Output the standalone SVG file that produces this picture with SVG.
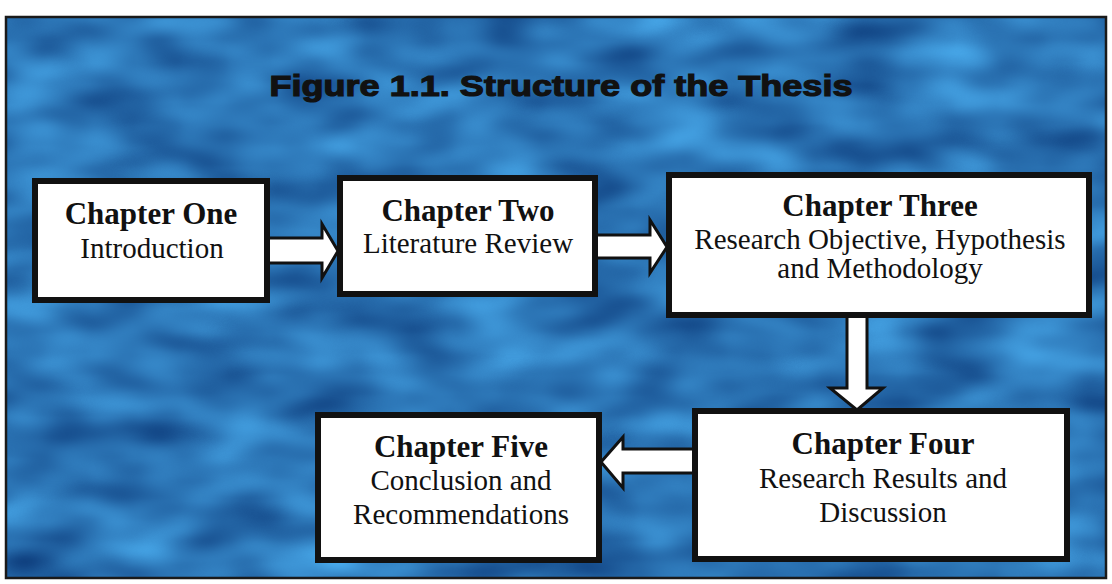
<svg xmlns="http://www.w3.org/2000/svg" width="1112" height="584" viewBox="0 0 1112 584">
  <defs>
    <filter id="tex" x="0" y="0" width="100%" height="100%" color-interpolation-filters="sRGB">
      <feTurbulence type="fractalNoise" baseFrequency="0.011 0.024" numOctaves="2" seed="7" result="n"/>
      <feColorMatrix in="n" type="matrix" values="0.283 0 0 0 0.029  0.52 0 0 0 0.197  0.53 0 0 0 0.445  0 0 0 0 1"/>
    </filter>
    <style>
      .box { fill: #ffffff; stroke: #111111; stroke-width: 6; }
      .arrow { fill: #ffffff; stroke: #111111; stroke-width: 3; stroke-linejoin: miter; }
      .head { font-family: "Liberation Serif", "Times New Roman", serif; font-weight: bold; font-size: 31px; fill: #111111; text-anchor: middle; }
      .body { font-family: "Liberation Serif", "Times New Roman", serif; font-size: 29px; fill: #111111; text-anchor: middle; }
      .title { font-family: "Liberation Sans", Arial, sans-serif; font-weight: bold; font-size: 30px; fill: #111111; stroke: #111111; stroke-width: 1.2; text-anchor: middle; }
    </style>
  </defs>

  <rect x="0" y="0" width="1112" height="584" fill="#ffffff"/>
  <g id="background">
    <rect x="6" y="17" width="1100" height="561" fill="#2f7fc0" filter="url(#tex)"/>
    <rect x="6" y="17" width="1100" height="561" fill="none" stroke="#1a1a1a" stroke-width="2.5"/>
  </g>

  <g id="title">
    <text class="title" x="561" y="96" textLength="583" lengthAdjust="spacingAndGlyphs">Figure 1.1. Structure of the Thesis</text>
  </g>

  <g id="connectors">
    <path class="arrow" d="M268,238 H322 V224 L338,251 L322,278 V263 H268 Z"/>
    <path class="arrow" d="M596,235 H650 V220 L667,247 L650,273 V258 H596 Z"/>
    <path class="arrow" d="M847,316 V388 H830 L857,410 L883,388 H867 V316 Z"/>
    <path class="arrow" d="M694,449 H623 V437 L601,462 L623,488 V473 H694 Z"/>
  </g>

  <g id="chapter-one">
    <rect class="box" x="35" y="181" width="232" height="119"/>
    <text class="head" x="151" y="224">Chapter One</text>
    <text class="body" x="152" y="258">Introduction</text>
  </g>

  <g id="chapter-two">
    <rect class="box" x="340" y="178" width="255" height="116"/>
    <text class="head" x="468" y="221">Chapter Two</text>
    <text class="body" x="468" y="253">Literature Review</text>
  </g>

  <g id="chapter-three">
    <rect class="box" x="669" y="175" width="420" height="140"/>
    <text class="head" x="880" y="216">Chapter Three</text>
    <text class="body" x="880" y="249">Research Objective, Hypothesis</text>
    <text class="body" x="880" y="278">and Methodology</text>
  </g>

  <g id="chapter-four">
    <rect class="box" x="695" y="411" width="372" height="148"/>
    <text class="head" x="883" y="454">Chapter Four</text>
    <text class="body" x="883" y="488">Research Results and</text>
    <text class="body" x="883" y="522">Discussion</text>
  </g>

  <g id="chapter-five">
    <rect class="box" x="318" y="415" width="281" height="145"/>
    <text class="head" x="461" y="457">Chapter Five</text>
    <text class="body" x="461" y="490">Conclusion and</text>
    <text class="body" x="461" y="524">Recommendations</text>
  </g>
</svg>
